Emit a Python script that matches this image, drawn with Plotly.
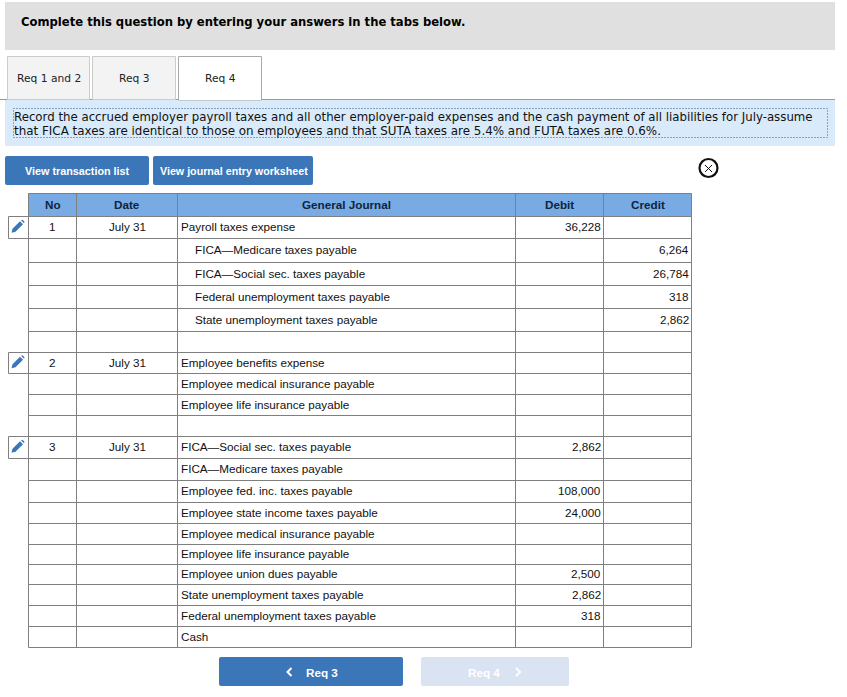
import plotly.graph_objects as go

# table contents
headers = ["No", "Date", "General Journal", "Debit", "Credit"]
row_no = ["1", "", "", "", "", "", "2", "", "", "", "3", "", "", "", "", "", "", "", "", ""]
row_date = ["July 31", "", "", "", "", "", "July 31", "", "", "", "July 31", "", "", "", "", "", "", "", "", ""]
accounts = ["Payroll taxes expense", "FICA\u2014Medicare taxes payable", "FICA\u2014Social sec. taxes payable",
            "Federal unemployment taxes payable", "State unemployment taxes payable", "",
            "Employee benefits expense", "Employee medical insurance payable", "Employee life insurance payable", "",
            "FICA\u2014Social sec. taxes payable", "FICA\u2014Medicare taxes payable", "Employee fed. inc. taxes payable",
            "Employee state income taxes payable", "Employee medical insurance payable", "Employee life insurance payable",
            "Employee union dues payable", "State unemployment taxes payable", "Federal unemployment taxes payable", "Cash"]
indented = [1, 2, 3, 4]
debit = ["36,228", "", "", "", "", "", "", "", "", "", "2,862", "", "108,000", "24,000", "", "", "2,500", "2,862", "318", ""]
credit = ["", "6,264", "26,784", "318", "2,862", "", "", "", "", "", "", "", "", "", "", "", "", "", "", ""]

tabs = ["Req 1 and 2", "Req 3", "Req 4"]
instruction = ["Record the accrued employer payroll taxes and all other employer-paid expenses and the cash payment of all liabilities for July-assume",
               "that FICA taxes are identical to those on employees and that SUTA taxes are 5.4% and FUTA taxes are 0.6%."]

# page geometry, in screenshot pixels
col_x = [28.5, 76.5, 177.5, 515.5, 603.5, 691.5]
row_y = [193.5, 216.5, 238.5, 262.5, 285.5, 308.5, 331.5, 352.5, 373.5, 394.5, 415.5, 436.5,
         458.5, 480.5, 502.5, 523.5, 544.5, 564.5, 584.5, 605.5, 626.5, 647.5]

BLUE = "#3b76b9"
GRID = "#7f7f7f"
ARIAL = "Liberation Sans"
VERDANA = "DejaVu Sans"

shapes = []
notes = []


def box(x0, y0, x1, y1, fill=None, line=None, width=1, dash=None):
    shapes.append(dict(type="rect", x0=x0, y0=y0, x1=x1, y1=y1, fillcolor=fill, layer="above",
                       line=dict(color=line, width=width if line else 0, dash=dash)))


def rounded(x0, y0, x1, y1, fill, r=2):
    path = (f"M{x0+r},{y0} L{x1-r},{y0} Q{x1},{y0} {x1},{y0+r} L{x1},{y1-r} Q{x1},{y1} {x1-r},{y1} "
            f"L{x0+r},{y1} Q{x0},{y1} {x0},{y1-r} L{x0},{y0+r} Q{x0},{y0} {x0+r},{y0} Z")
    shapes.append(dict(type="path", path=path, fillcolor=fill, line=dict(width=0), layer="above"))


def seg(x0, y0, x1, y1, color=GRID, width=1):
    shapes.append(dict(type="line", x0=x0, y0=y0, x1=x1, y1=y1, layer="above", line=dict(color=color, width=width)))


def text(x, y, s, size=11.7, color="#111111", family=ARIAL, anchor="center", bold=False):
    if bold:
        s = "<b>" + s + "</b>"
    notes.append(dict(x=x, y=y, text=s, showarrow=False, xanchor=anchor, yanchor="middle", xref="x", yref="y",
                      borderpad=0, borderwidth=0, font=dict(size=size, color=color, family=family)))


def pencil(cx, cy):
    path = (f"M{cx-6.5},{cy+6} L{cx-5.5},{cy+2} L{cx+2},{cy-5.5} L{cx+5},{cy-2.5} L{cx-2.5},{cy+5} Z "
            f"M{cx+3},{cy-6.5} L{cx+4.5},{cy-7} L{cx+6.5},{cy-5} L{cx+6},{cy-3.5} Z")
    shapes.append(dict(type="path", path=path, fillcolor=BLUE, line=dict(width=0), layer="above"))


# banner and tabs
box(5, 2, 835, 50, fill="#e0e0e0")
text(21, 21.5, "Complete this question by entering your answers in the tabs below.", size=11.6, color="#000000",
     family=VERDANA, bold=True, anchor="left")

box(5, 99, 835, 146, fill="#d9ebfa")
seg(0, 99.5, 835, 99.5, color="#999999")
box(7.5, 56.5, 89.5, 99.5, fill="#f3f3f3", line="#cccccc")
box(92.5, 56.5, 175.5, 99.5, fill="#f3f3f3", line="#cccccc")
box(178.5, 56.5, 261.5, 100, fill="#ffffff", line="#aaaaaa")
seg(179, 99.5, 261, 99.5, color="#ffffff", width=1)
for tab_x, tab in zip([48.5, 134, 220], tabs):
    text(tab_x, 78, tab, size=10.7, family=VERDANA, color="#222222")

# instructions
box(13.5, 108.5, 827.5, 137.5, line="#3b5f8f", dash="1px,2px")
text(14, 116.5, instruction[0], size=11.78, family=VERDANA, anchor="left")
text(14, 130.5, instruction[1], size=11.92, family=VERDANA, anchor="left")

# view buttons
rounded(5, 156, 149, 185, BLUE)
rounded(153, 156, 313, 185, BLUE)
text(77, 171, "View transaction list", size=10.8, color="#ffffff", bold=True)
text(233.5, 171, "View journal entry worksheet", size=10.7, color="#ffffff", bold=True)

# close icon
shapes.append(dict(type="circle", x0=699.5, y0=159, x1=717.5, y1=177, layer="above",
                   line=dict(color="#111111", width=2.2)))
seg(705, 165, 712, 172, color="#111111")
seg(712, 165, 705, 172, color="#111111")

# journal table
box(col_x[0], row_y[0], col_x[-1], row_y[1], fill="#78abe4")
for y in row_y:
    seg(col_x[0], y, col_x[-1], y)
for x in col_x:
    seg(x, row_y[0], x, row_y[-1])

header_x = [(a + b) / 2 for a, b in zip(col_x, col_x[1:])]
for x, h in zip(header_x, headers):
    text(x, (row_y[0] + row_y[1]) / 2 - 0.8, h, bold=True, color="#10243c")

for i, name in enumerate(accounts):
    mid = (row_y[i + 1] + row_y[i + 2]) / 2 - 0.8
    if row_no[i]:
        text(header_x[0], mid, row_no[i])
        text(header_x[1], mid, row_date[i])
        box(8.5, row_y[i + 1], col_x[0], row_y[i + 2], line=GRID)
        pencil(18, mid)
    if name:
        text(195 if i in indented else 181, mid, name, anchor="left")
    if debit[i]:
        text(600.8, mid, debit[i], anchor="right")
    if credit[i]:
        text(688.8, mid, credit[i], anchor="right")

# bottom navigation
rounded(219, 657, 403, 686, BLUE)
rounded(421, 657, 569, 686, "#d9e3f1")
text(322, 672, "Req 3", color="#ffffff", bold=True)
text(483.5, 672, "Req 4", color="#ffffff", bold=True)
shapes.append(dict(type="path", path="M291.5,668 L287.5,672 L291.5,676", layer="above", line=dict(color="#ffffff", width=2)))
shapes.append(dict(type="path", path="M516,668 L520,672 L516,676", layer="above", line=dict(color="#ffffff", width=2)))

fig = go.Figure()
fig.update_layout(width=847, height=697, margin=dict(l=0, r=0, t=0, b=0), showlegend=False,
                  plot_bgcolor="#ffffff", paper_bgcolor="#ffffff", shapes=shapes, annotations=notes,
                  xaxis=dict(range=[0, 847], visible=False, fixedrange=True),
                  yaxis=dict(range=[697, 0], visible=False, fixedrange=True))

fig.write_html("out.html", config={"displayModeBar": False},
               post_script="document.body.style.margin='0';document.body.style.overflow='hidden';")
